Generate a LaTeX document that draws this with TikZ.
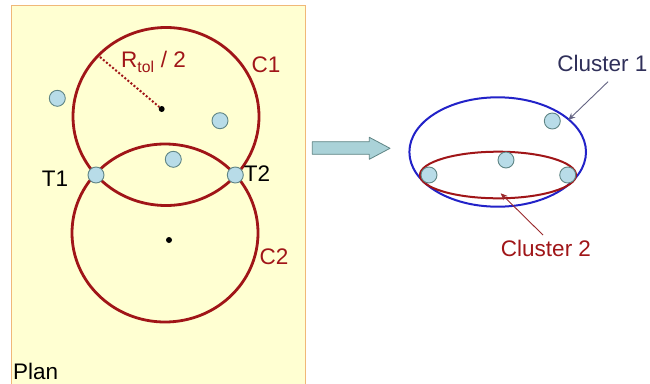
\documentclass[tikz,border=0pt]{standalone}
\usepackage{fontspec}
\setmainfont{Liberation Sans}
\usetikzlibrary{arrows.meta}
\definecolor{planfill}{HTML}{FFFFD2}
\definecolor{planedge}{HTML}{F0B878}
\definecolor{cred}{HTML}{A01518}
\definecolor{ptfill}{HTML}{B8DCE8}
\definecolor{ptedge}{HTML}{5F8585}
\definecolor{cblue}{HTML}{2222C8}
\definecolor{navy}{HTML}{30305A}
\definecolor{arrfill}{HTML}{AAD2D8}
\tikzset{
  pt/.style={circle,draw=ptedge,fill=ptfill,line width=0.9pt,minimum size=16pt,inner sep=0pt},
  ctr/.style={circle,fill=black,minimum size=6pt,inner sep=0pt},
  lbl/.style={font=\fontsize{22.5}{26}\selectfont,inner sep=0pt},
  bigcirc/.style={draw=cred,line width=2.8pt},
  pointer/.style={line width=0.9pt,-{Stealth[length=7pt,width=6pt]}},
}
\begin{document}
\begin{tikzpicture}[x=1pt,y=-1pt]
\useasboundingbox (0,0) rectangle (650,383);
\clip (0,0) rectangle (650,383);
\fill[white] (0,0) rectangle (650,383);
% plan panel
\draw[planedge,fill=planfill,line width=0.8pt] (11,5) rectangle (305.5,390);
% circles
\draw[bigcirc] (166,116.5) ellipse [x radius=93, y radius=89];
\draw[bigcirc] (165,233) ellipse [x radius=93, y radius=89];
\node[ctr] (o1) at (161.7,109) {};
\node[ctr] (o2) at (169,240) {};
\coordinate (rim) at (100,57);
\draw[cred,line width=2pt,dotted] (rim) -- (o1);
% points
\node[pt] (p1) at (57.3,98.3) {};
\node[pt] (p2) at (220,120.7) {};
\node[pt] (p3) at (173.3,159.3) {};
\node[pt] (t1) at (96,175) {};
\node[pt] (t2) at (235.3,175) {};
% labels
\node[lbl,text=cred,anchor=west] (r) at (121,62) {R\textsubscript{tol} / 2};
\node[lbl,text=cred] (c1) at (266,64.5) {C1};
\node[lbl,text=cred] (c2) at (274,257) {C2};
\node[lbl] (lt1) at (55,178.5) {T1};
\node[lbl] (lt2) at (257,174) {T2};
\node[lbl,anchor=base west] (plan) at (13,379.5) {Plan};
% block arrow
\draw[ptedge,fill=arrfill,line width=0.8pt,line join=round]
  (312.3,141.7) -- (369.3,141.7) -- (369.3,137.3) -- (390,148.3)
  -- (369.3,159.3) -- (369.3,154.3) -- (312.3,154.3) -- cycle;
% clusters
\draw[cblue,line width=2pt] (497.7,152) ellipse [x radius=88.3, y radius=54.7];
\draw[cred,line width=2pt] (498,175) ellipse [x radius=78, y radius=23.3];
\node[pt] (q1) at (552.3,121) {};
\node[pt] (q2) at (506,160) {};
\node[pt] (q3) at (429,175) {};
\node[pt] (q4) at (567.7,175) {};
\node[lbl,text=navy,anchor=east] (cl1) at (647.5,63.3) {Cluster 1};
\node[lbl,text=cred] (cl2) at (546,248) {Cluster 2};
\coordinate (e1) at (568.3,120);
\coordinate (e2) at (500.7,193.3);
\coordinate (s1) at (608,81.7);
\coordinate (s2) at (543,235);
\draw[pointer,navy!75!white] (s1) -- (e1);
\draw[pointer,cred!80!gray] (s2) -- (e2);
\end{tikzpicture}
\end{document}
